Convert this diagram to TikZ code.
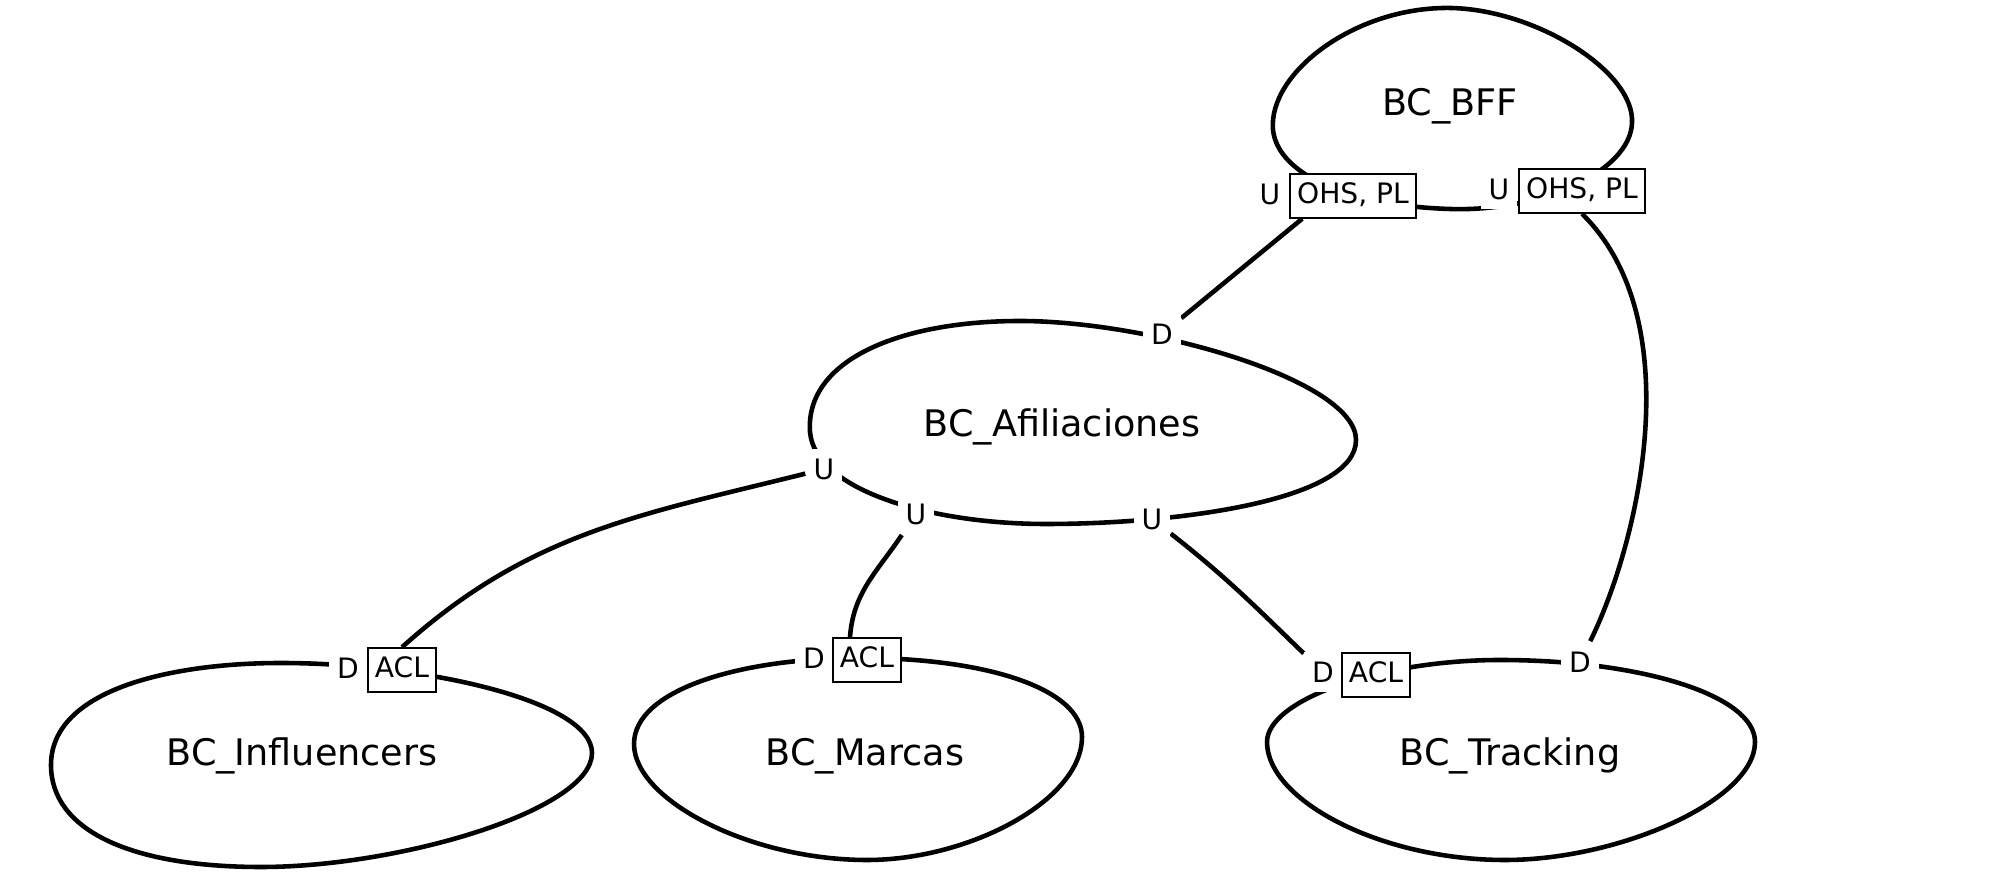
\documentclass[tikz,border=0pt]{standalone}
\usepackage{fontspec}
\setmainfont{DejaVu Sans}
\pgfdeclarelayer{bg}
\pgfsetlayers{bg,main}
\tikzset{
  blob/.style={line width=1.3pt, line join=round},
  conn/.style={line width=1.3pt},
  bcname/.style={font=\fontsize{10.4}{12}\selectfont, inner sep=0pt},
  ud/.style={font=\fontsize{8}{9.6}\selectfont, fill=white, inner xsep=2.2pt, inner ysep=2.8pt},
  pat/.style={draw, line width=0.55pt, fill=white, font=\fontsize{8}{9.6}\selectfont,
              inner xsep=2pt, inner ysep=2.4pt, text height=6pt, text depth=1.6pt}
}
\begin{document}
\begin{tikzpicture}[x=0.01cm, y=-0.01cm]
\useasboundingbox (0,0) rectangle (2000,877);
% context names
\node[bcname] (bff) at (1450,106) {BC\_BFF};
\node[bcname] (afi) at (1062,427) {BC\_Afiliaciones};
\node[bcname] (inf) at (302,756) {BC\_Influencers};
\node[bcname] (mar) at (865,756) {BC\_Marcas};
\node[bcname] (tra) at (1510,756) {BC\_Tracking};
% role labels
\node[ud]  (bffU1) at (1270,194) {U};
\node[pat] (bffP1) at (1353,196) {OHS, PL};
\node[ud]  (bffU2) at (1499,189) {U};
\node[pat] (bffP2) at (1582,191) {OHS, PL};
\node[ud]  (afiD)  at (1162,334) {D};
\node[ud]  (afiU1) at (824,469) {U};
\node[ud]  (afiU2) at (916,514) {U};
\node[ud]  (afiU3) at (1152,519) {U};
\node[ud]  (infD)  at (348,668) {D};
\node[pat] (infA)  at (402,670) {ACL};
\node[ud]  (marD)  at (814,658) {D};
\node[pat] (marA)  at (867,660) {ACL};
\node[ud]  (traD1) at (1323,672) {D};
\node[pat] (traA)  at (1376,675) {ACL};
\node[ud]  (traD2) at (1580,662) {D};
\begin{pgfonlayer}{bg}
% blobs
\draw[blob] (1273,130) .. controls (1268,75) and (1350,10) .. (1443,8)
  .. controls (1530,6) and (1635,70) .. (1632,123)
  .. controls (1630,172) and (1540,212) .. (1450,209)
  .. controls (1350,206) and (1278,175) .. (1273,130) -- cycle;
\draw[blob] (810,432) .. controls (805,360) and (900,321) .. (1020,321)
  .. controls (1150,321) and (1356,380) .. (1356,440)
  .. controls (1356,500) and (1180,524) .. (1046,524)
  .. controls (930,524) and (815,490) .. (810,432) -- cycle;
\draw[blob] (51,765) .. controls (51,690) and (170,663) .. (281,663)
  .. controls (420,663) and (592,700) .. (592,753)
  .. controls (592,810) and (400,867) .. (261,867)
  .. controls (130,867) and (51,830) .. (51,765) -- cycle;
\draw[blob] (634,744) .. controls (634,690) and (740,658) .. (860,658)
  .. controls (990,658) and (1082,690) .. (1082,737)
  .. controls (1082,800) and (970,860) .. (867,860)
  .. controls (750,860) and (634,800) .. (634,744) -- cycle;
\draw[blob] (1267,742) .. controls (1267,700) and (1380,660) .. (1500,660)
  .. controls (1640,660) and (1755,695) .. (1755,742)
  .. controls (1755,800) and (1620,860) .. (1505,860)
  .. controls (1380,860) and (1267,800) .. (1267,742) -- cycle;
% connectors
\draw[conn] ([xshift=0.13cm]bffP1.south west) -- (afiD);
\draw[conn] (bffP2.south) .. controls (1690,320) and (1640,540) .. (traD2);
\draw[conn] (afiU1) to[out=194, in=42] (infA.north);
\draw[conn] (afiU2) to[out=236, in=86] ([xshift=-0.17cm]marA.north);
\draw[conn] (afiU3) to[out=-38, in=136] (traD1);
\end{pgfonlayer}
\end{tikzpicture}
\end{document}
